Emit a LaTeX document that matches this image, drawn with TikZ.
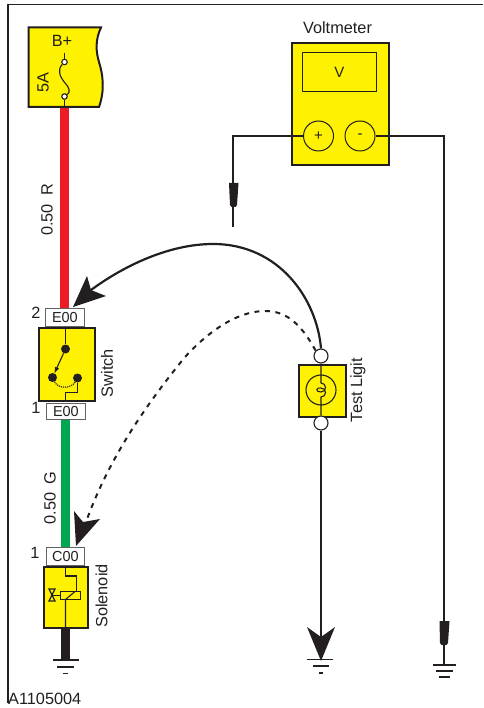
\documentclass[tikz,border=0pt]{standalone}
\usepackage{fontspec}
\setmainfont{Liberation Sans}
\usetikzlibrary{calc}
\definecolor{ykol}{HTML}{FFF200}
\definecolor{redw}{HTML}{ED1C24}
\definecolor{grnw}{HTML}{00A651}
\definecolor{ink}{HTML}{231F20}
\tikzset{
  unitbox/.style={draw=ink,line width=2pt,fill=ykol,inner sep=0pt,anchor=north west},
  conn/.style={draw=ink!70,line width=0.8pt,fill=white,inner sep=0pt,anchor=north west,font=\fontsize{14.5}{14.5}\selectfont,text=ink},
  lab/.style={inner sep=0pt,text=ink,font=\fontsize{16.3}{16.3}\selectfont},
  fine/.style={draw=ink,line width=1.1pt},
  wire/.style={draw=ink,line width=1.5pt},
  gnd/.style={draw=ink,line width=1.5pt},
  dotn/.style={circle,fill=ink,minimum size=9pt,inner sep=0pt},
  ringn/.style={circle,draw=ink,line width=1.1pt,fill=white,inner sep=0pt,minimum size=14pt},
  termn/.style={circle,draw=ink,line width=1pt,inner sep=0pt,minimum size=30pt,font=\fontsize{15}{15}\selectfont},
  probe/.style={fill=ink,draw=none},
  headf/.style={fill=ink,draw=none}
}
\begin{document}
\begin{tikzpicture}[x=1pt,y=-1pt]
\useasboundingbox (0,0) rectangle (483,708);
% frame
\draw[ink,line width=1.2pt] (8,703) -- (8,4.5) -- (483,4.5);
% connectors
\node[conn,minimum width=39pt,minimum height=18pt] (e1) at (45,308) {E00};
\node[conn,minimum width=39pt,minimum height=16pt] (e2) at (46,403) {E00};
\node[conn,minimum width=38pt,minimum height=18pt] (c0) at (46,547) {C00};
% fuse box
\path[fill=ykol,draw=ink,line width=2pt]
  (28.5,27.5) -- (101,27.5) .. controls (95,40) and (96,52) .. (99,62)
  .. controls (103,75) and (105,90) .. (99,107) -- (28.5,107) -- cycle;
\coordinate (fb) at (64.5,108);
\draw[redw,line width=9pt] (fb) -- (e1.north -| fb);
\draw[grnw,line width=9pt] (e2.south -| 65,0) -- (c0.north -| 65,0);
\node[lab] (bplus) at (62,41) {B+};
\node[lab,rotate=90] (fivea) at (43,83) {5A};
\draw[fine] (64.5,53) -- (64.5,62);
\node[ringn,minimum size=5.5pt] (fa) at (64.5,62) {};
\node[ringn,minimum size=5.5pt] (fc) at (64.5,96.5) {};
\draw[fine] (fa) .. controls (57,70) and (60,77) .. (65,83) .. controls (69,87) and (71,92) .. (fc);
\draw[fine] (fc) -- (fb);
% Switch
\node[unitbox,minimum width=56pt,minimum height=73pt] (sw) at (37.5,327) {};
\node[dotn] (s1) at (65.5,349) {};
\node[dotn] (s2) at (52.5,377.5) {};
\node[dotn] (s3) at (77.5,378) {};
\draw[fine] (sw.north -| s1) -- (s1);
\draw[fine,-latex] (s1) -- (s2);
\draw[fine,densely dotted,line width=1.2pt] (s2) .. controls (58,389) and (71,389) .. (s3);
\draw[fine] (s3) -- (77.5,392.5) -- (65.5,392.5) -- (65.5,400);
\node[lab,rotate=90] (swl) at (107,373) {Switch};
\node[lab] at (36,313) {2};
\node[lab] at (36,408) {1};
% Solenoid
\node[unitbox,minimum width=44pt,minimum height=61pt] (so) at (42.5,566) {};
\node[draw=ink,line width=1.6pt,fill=ykol,minimum width=20pt,minimum height=8pt,inner sep=0pt] (coil) at (70.5,595.5) {};
\draw[fine] (65.5,566) -- (65.5,576) -- (76.5,576) -- (76.5,591.5);
\draw[fine] (65.5,627) -- (65.5,599.5) -- (75,591.5);
\draw[fine,line width=1.3pt] (coil.west) -- (52,595.5);
\draw[fine,line width=1.2pt] (49,589) -- (55,589) -- (49,601) -- (55,601) -- cycle;
\node[lab,rotate=90] (sol) at (101.5,596) {Solenoid};
\node[lab] at (35,553) {1};
\coordinate (g1) at (65,660);
\draw[ink,line width=9pt] (so.south -| g1) -- (g1);
\draw[gnd] (53,660) -- (79,660) (57,667) -- (74,667);
\draw[gnd,line width=1.8pt] (63,673.5) -- (68,673.5);
% Test light
\node[unitbox,minimum width=47pt,minimum height=52pt] (tl) at (297.5,363.5) {};
\node[termn,line width=1.1pt] (bulb) at (321,390) {};
\node[ringn] (ta) at (321,356) {};
\node[ringn] (tb) at (321,423) {};
\draw[fine] (ta) -- (321,383) .. controls (327,383) and (327,392) .. (321,392) .. controls (315,392) and (316,387) .. (321,388) .. controls (327,388) and (327,397) .. (321,397) -- (tb);
\node[lab,rotate=90] (tll) at (358,390) {Test Ligit};
\coordinate (g2) at (321,659);
\draw[ink,line width=1.8pt] (tb) -- (321,640);
\path[headf] (321,661) -- (307,627) -- (321,637) -- (335,627) -- cycle;
\draw[gnd] (307,659.5) -- (333,659.5) (313,666) -- (329,666);
\draw[gnd,line width=1.8pt] (319,673) -- (323,673);
% Solid curve
\coordinate (tipa) at (73,307);
\draw[ink,line width=2.2pt] (ta.north) .. controls (317,300) and (280,244) .. (213,244)
  .. controls (170,244) and (125,265) .. (91,290);
\path[headf] (tipa) -- (87,276) -- (91,290) -- (106,296) -- cycle;
% Dashed curve
\coordinate (tipb) at (76,546);
\draw[ink,line width=2pt,dash pattern=on 5pt off 5.5pt] (ta.north west) .. controls (300,322) and (285,311) .. (265,311)
  .. controls (235,311) and (205,335) .. (185,357)
  .. controls (150,400) and (110,455) .. (86,522);
\path[headf] (tipb) -- (74,511) -- (83,522) -- (100,519) -- cycle;
% Voltmeter
\node[lab] (vl) at (337.5,28) {Voltmeter};
\node[unitbox,minimum width=97pt,minimum height=122pt] (vm) at (291,42) {};
\node[draw=ink,line width=1pt,minimum width=74.5pt,minimum height=39.5pt,inner sep=0pt,anchor=north west,font=\fontsize{15}{15}\selectfont,text=ink] (disp) at (301.5,52) {V};
\node[termn,text=ink] (tp) at (318.5,136) {+};
\node[termn,text=ink] (tm) at (360,136) {-};
\coordinate (pl) at (233,227);
\coordinate (gr) at (444,665);
\draw[wire] (tp) -| (pl);
\draw[wire] (tm) -| (gr);
\path[probe] (229,183) -- (238.5,183) -- (237,205) -- (235.5,207) -- (231.5,207) -- (230,205) -- cycle;
\path[probe] (439.5,621) -- (449.5,621) -- (448,643) -- (446.5,645) -- (441.5,645) -- (440,643) -- cycle;
\draw[gnd] (433,665) -- (456,665) (436,671) -- (453,671) (439,677) -- (450,677);
% wire labels
\node[lab,rotate=90] (w1) at (47,210) {0.50\hspace{0.5em}R};
\node[lab,rotate=90] (w2) at (50,498) {0.50\hspace{0.5em}G};
\node[lab,anchor=west] (code) at (8,699) {A1105004};
\end{tikzpicture}
\end{document}
